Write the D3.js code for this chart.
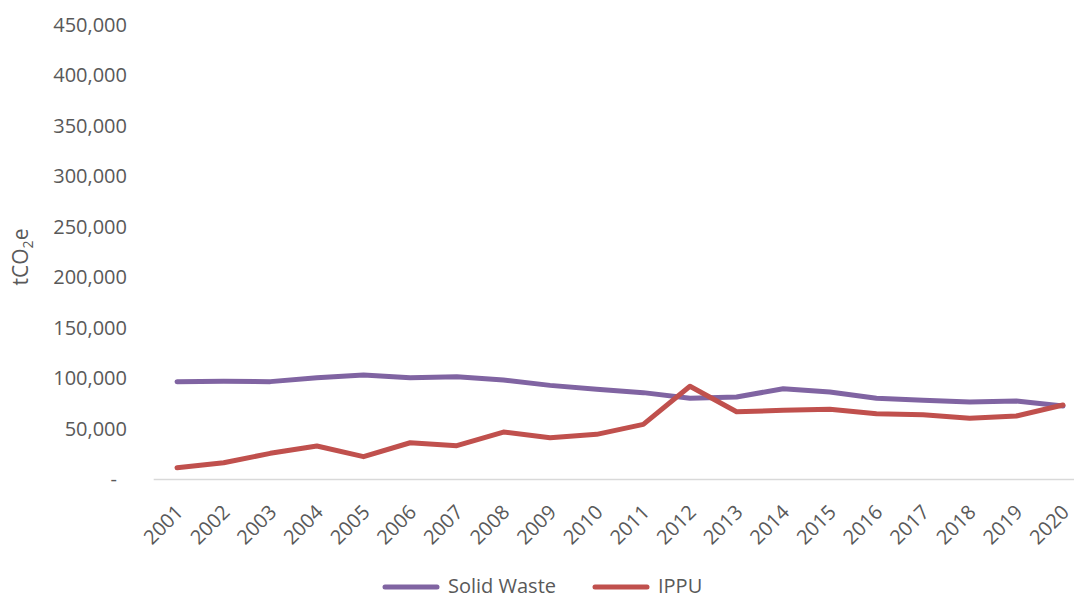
<!DOCTYPE html>
<html>
<head>
<meta charset="utf-8">
<script src="https://cdn.jsdelivr.net/npm/d3@7"></script>
<style>
  html, body { margin: 0; padding: 0; background: #fff; }
  svg { display: block; font-family: "Open Sans", "Noto Sans", sans-serif; }
</style>
</head>
<body>
<svg id="chart" width="1074" height="598"></svg>
<script>
// Annual emissions, tCO2e
const years = ["2001","2002","2003","2004","2005","2006","2007","2008","2009","2010",
               "2011","2012","2013","2014","2015","2016","2017","2018","2019","2020"];
const solidWaste = [96800, 97200, 96900, 100800, 103500, 100800, 101800, 98500, 93200, 89300,
                    86000, 80400, 81700, 89900, 86600, 80400, 78400, 76700, 77700, 72800];
const ippu = [11700, 16600, 25900, 33200, 22600, 36400, 33500, 47000, 41400, 44700,
              54600, 92300, 67100, 68500, 69500, 65100, 64200, 60600, 62900, 73800];
const yTicks = [0, 50000, 100000, 150000, 200000, 250000, 300000, 350000, 400000, 450000];
const seriesNames = ["Solid Waste", "IPPU"];
const seriesColors = ["#8064A2", "#C0504D"];

const svg = d3.select("#chart");
const textColor = "#595959";

const x = d3.scalePoint().domain(years).range([153.7, 1086.3]).padding(0.5);
const y = d3.scaleLinear().domain([0, 450000]).range([479.5, 25]);

// y-axis labels (no line, no ticks)
const yAxis = svg.append("g")
  .attr("transform", "translate(127,0)")
  .call(d3.axisLeft(y).tickValues(yTicks).tickSize(0).tickPadding(0)
        .tickFormat(d => d === 0 ? "-" : d3.format(",")(d)));
yAxis.select(".domain").remove();
yAxis.selectAll("text")
  .attr("fill", textColor)
  .style("font-size", "20px")
  .style("font-family", "'Open Sans', sans-serif")
  .attr("x", d => d === 0 ? -10 : 0);

// x-axis baseline and rotated year labels
const xAxis = svg.append("g")
  .attr("transform", `translate(0,${y(0)})`)
  .call(d3.axisBottom(x).tickSize(0).tickPadding(0));
xAxis.select(".domain").attr("stroke", "#D9D9D9").attr("stroke-width", 1.5)
  .attr("d", `M153.7,0H1086.3`);
xAxis.selectAll("text")
  .attr("fill", textColor)
  .style("font-size", "20px")
  .style("font-family", "'Open Sans', sans-serif")
  .attr("text-anchor", "end")
  .attr("y", 0)
  .attr("dy", "0.35em")
  .attr("transform", "translate(2,29) rotate(-45)");

// y-axis title
const title = svg.append("text")
  .attr("transform", "translate(28,257) rotate(-90)")
  .attr("text-anchor", "middle")
  .attr("fill", textColor)
  .style("font-size", "21px");
title.append("tspan").text("tCO");
title.append("tspan").text("2").style("font-size", "14px").attr("dy", "5");
title.append("tspan").text("e").attr("dy", "-5");

// lines
const line = d3.line().x((d, i) => x(years[i])).y(d => y(d));
[solidWaste, ippu].forEach((vals, i) => {
  svg.append("path")
    .datum(vals)
    .attr("fill", "none")
    .attr("stroke", seriesColors[i])
    .attr("stroke-width", 5)
    .attr("stroke-linejoin", "round")
    .attr("stroke-linecap", "round")
    .attr("d", line);
});

// legend
const legendItems = [{x: 383}, {x: 593}];
legendItems.forEach((it, i) => {
  const g = svg.append("g").attr("transform", `translate(${it.x},587)`);
  g.append("line").attr("x1", 2).attr("x2", 54).attr("y1", 0).attr("y2", 0)
    .attr("stroke", seriesColors[i]).attr("stroke-width", 5).attr("stroke-linecap", "round");
  g.append("text").attr("x", 65).attr("dy", "0.3em")
    .attr("fill", textColor).style("font-size", "20px").text(seriesNames[i]);
});
</script>
</body>
</html>
